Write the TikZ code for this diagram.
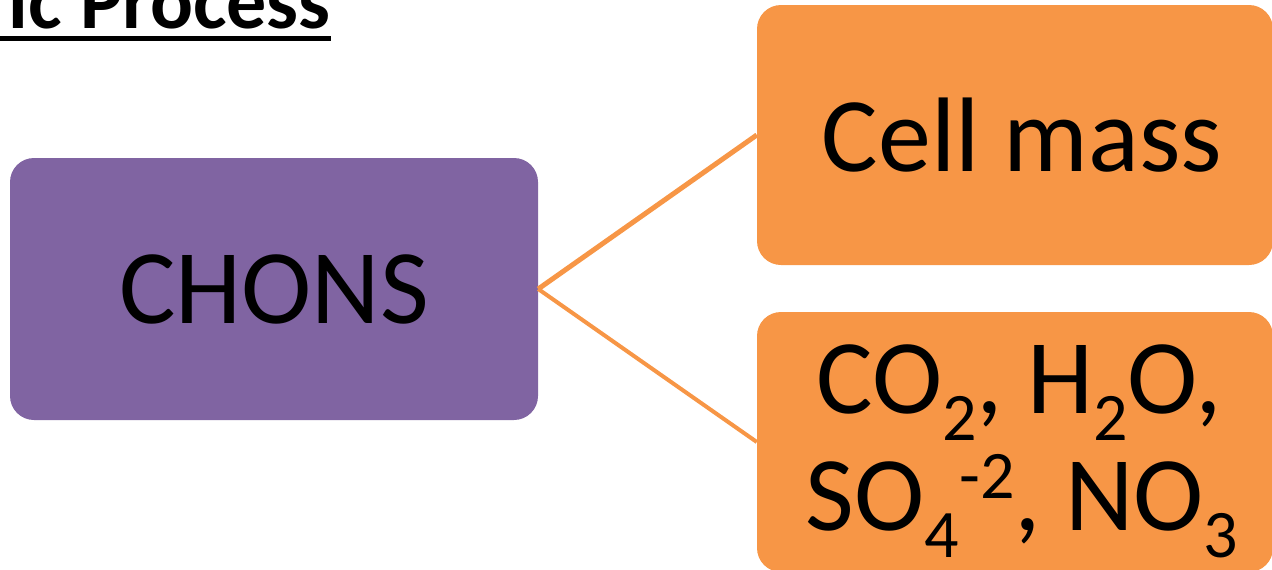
\documentclass[tikz,border=0pt]{standalone}
\usepackage{fontspec}
\setmainfont{Carlito}
\definecolor{boxpurple}{HTML}{8064A2}
\definecolor{boxorange}{HTML}{F79646}
\newcommand\lowsub[1]{\raisebox{-27pt}{\fontsize{68}{68}\selectfont #1}}
\newcommand\highsup[1]{\raisebox{32pt}{\fontsize{68}{68}\selectfont #1}}
\begin{document}
\begin{tikzpicture}[x=1pt,y=-1pt,
  boxstyle/.style={rounded corners=24pt, inner sep=0pt, minimum width=#1},
  purplebox/.style={boxstyle=528pt, fill=boxpurple, minimum height=262pt},
  orangebox/.style={boxstyle=516pt, fill=boxorange, minimum height=260pt},
  bigtext/.style={font=\fontsize{106}{117}\selectfont},
  link/.style={draw=boxorange, line width=5pt}]
\useasboundingbox (0,0) rectangle (1272,570);
\node[purplebox, bigtext] (chons) at (274,289) {CHONS};
\node[orangebox] (cell) at (1015,135) {};
\node[bigtext] (celltext) at (1022,135) {Cell mass};
\node[orangebox] (prod) at (1015,442) {};
\node[bigtext, anchor=base, inner sep=0pt] (prodone) at (1019,413)
  {CO\lowsub{2}, H\lowsub{2}O,};
\node[bigtext, anchor=base, inner sep=0pt] (prodtwo) at (1022,530)
  {SO\lowsub{4}\highsup{-2}, NO\lowsub{3}};
\draw[link] (chons.east) -- (cell.west);
\draw[link, line width=4pt] (chons.east) -- (prod.west);
\node[font=\bfseries\fontsize{80}{80}\selectfont, anchor=base east, inner sep=0pt] (title) at (331,28) {ic Process};
\draw[line width=5pt] (0,38.5) -- (331,38.5);
\end{tikzpicture}
\end{document}
